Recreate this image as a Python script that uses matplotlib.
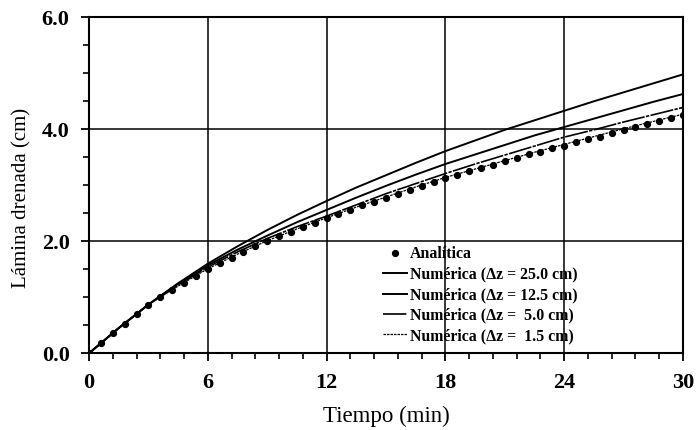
import numpy as np
import matplotlib.pyplot as plt
from matplotlib.ticker import MultipleLocator, FormatStrFormatter

plt.rcParams['font.family'] = ['Liberation Serif', 'DejaVu Serif']

# solución analítica, cada 0.6 min
t_anal = [0.0, 0.6, 1.2, 1.8, 2.4, 3.0, 3.6, 4.2, 4.8, 5.4,
          6.0, 6.6, 7.2, 7.8, 8.4, 9.0, 9.6, 10.2, 10.8, 11.4,
          12.0, 12.6, 13.2, 13.8, 14.4, 15.0, 15.6, 16.2, 16.8, 17.4,
          18.0, 18.6, 19.2, 19.8, 20.4, 21.0, 21.6, 22.2, 22.8, 23.4,
          24.0, 24.6, 25.2, 25.8, 26.4, 27.0, 27.6, 28.2, 28.8, 29.4, 30.0]
y_anal = [0.00, 0.18, 0.36, 0.53, 0.70, 0.86, 1.00, 1.13, 1.26, 1.38,
          1.50, 1.61, 1.71, 1.81, 1.91, 2.00, 2.09, 2.17, 2.25, 2.33,
          2.41, 2.49, 2.56, 2.64, 2.71, 2.78, 2.85, 2.92, 2.99, 3.06,
          3.13, 3.19, 3.25, 3.31, 3.37, 3.43, 3.49, 3.55, 3.60, 3.66,
          3.71, 3.77, 3.82, 3.87, 3.93, 3.98, 4.04, 4.09, 4.14, 4.20, 4.25]

# soluciones numéricas, cada 1.5 min
t_num = [0.0, 1.5, 3.0, 4.5, 6.0, 7.5, 9.0, 10.5, 12.0, 13.5, 15.0,
         16.5, 18.0, 19.5, 21.0, 22.5, 24.0, 25.5, 27.0, 28.5, 30.0]
y_dz250 = [0.00, 0.45, 0.87, 1.25, 1.60, 1.91, 2.20, 2.47, 2.72, 2.96, 3.18,
           3.40, 3.61, 3.80, 3.99, 4.16, 4.33, 4.50, 4.66, 4.82, 4.98]
y_dz125 = [0.00, 0.45, 0.87, 1.24, 1.57, 1.85, 2.10, 2.34, 2.56, 2.78, 2.99,
           3.19, 3.38, 3.55, 3.72, 3.89, 4.04, 4.19, 4.34, 4.49, 4.63]
y_dz50 = [0.00, 0.45, 0.87, 1.22, 1.54, 1.81, 2.05, 2.26, 2.45, 2.65, 2.85,
          3.03, 3.21, 3.38, 3.54, 3.70, 3.86, 3.99, 4.13, 4.26, 4.39]
y_dz15 = [0.00, 0.45, 0.87, 1.20, 1.51, 1.77, 2.01, 2.22, 2.42, 2.61, 2.79,
          2.97, 3.14, 3.29, 3.44, 3.59, 3.73, 3.87, 4.01, 4.14, 4.27]

labels = ["Analítica",
          "Numérica (Δz = 25.0 cm)",
          "Numérica (Δz = 12.5 cm)",
          "Numérica (Δz =  5.0 cm)",
          "Numérica (Δz =  1.5 cm)"]


def plot():
    fig = plt.figure(figsize=(6.99, 4.30), dpi=100)
    ax = fig.add_axes([0.1273, 0.1784, 0.8498, 0.7814])

    ax.plot(t_anal, y_anal, 'o', color='black', markersize=4.2, label=labels[0], zorder=4)
    ax.plot(t_num, y_dz250, '-', color='black', lw=1.4, label=labels[1])
    ax.plot(t_num, y_dz125, '-', color='black', lw=1.4, label=labels[2])
    ax.plot(t_num, y_dz50, color='black', lw=1.2, ls=(0, (14, 0.8, 2, 0.8)), label=labels[3])
    ax.plot(t_num, y_dz15, color='black', lw=0.9, ls=(0, (2, 0.8)), label=labels[4])

    ax.set_xlim(0, 30)
    ax.set_ylim(0, 6)
    ax.xaxis.set_major_locator(MultipleLocator(6))
    ax.xaxis.set_minor_locator(MultipleLocator(1.2))
    ax.yaxis.set_major_locator(MultipleLocator(2))
    ax.yaxis.set_minor_locator(MultipleLocator(0.5))
    ax.yaxis.set_major_formatter(FormatStrFormatter('%.1f'))

    ax.grid(True, which='major', color='black', lw=1.1)
    ax.set_axisbelow(True)
    for s in ax.spines.values():
        s.set_linewidth(1.5)

    ax.tick_params(which='major', direction='out', length=6, width=1.3, pad=8,
                   labelsize=16)
    ax.tick_params(which='minor', direction='out', length=4, width=1.2)
    for lab in ax.get_yticklabels():
        lab.set_fontweight('bold')
    for lab in ax.get_xticklabels():
        lab.set_fontweight('bold')

    ax.set_xlabel('Tiempo (min)', fontsize=16.5)
    ax.set_ylabel('Lámina drenada (cm)', fontsize=15)
    ax.xaxis.set_label_coords(0.5, -0.155)
    ax.yaxis.set_label_coords(-0.097, 0.462)

    leg = ax.legend(loc='upper left', bbox_to_anchor=(0.482, 0.342), frameon=False,
                    borderpad=0, handlelength=1.5, handletextpad=0.2,
                    labelspacing=0.28, prop={'weight': 'bold', 'size': 11.4})
    leg.set_zorder(5)

    fig.savefig('out.png', dpi=100)


if __name__ == "__main__":
    plot()
